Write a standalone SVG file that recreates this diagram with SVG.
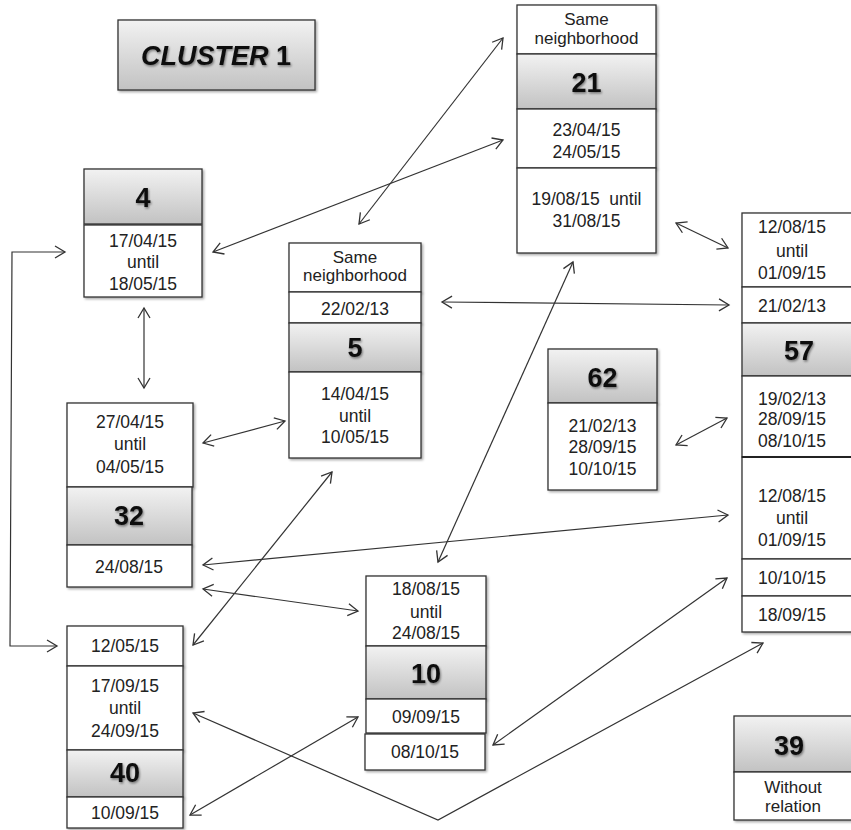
<svg xmlns="http://www.w3.org/2000/svg" width="851" height="830" viewBox="0 0 851 830">
<defs>
<linearGradient id="g" x1="0" y1="0" x2="0" y2="1">
<stop offset="0" stop-color="#f2f2f2"/>
<stop offset="1" stop-color="#c2c2c2"/>
</linearGradient>
<filter id="sh" x="-10%" y="-10%" width="130%" height="130%">
<feDropShadow dx="1.5" dy="1.5" stdDeviation="1.2" flood-color="#000" flood-opacity="0.35"/>
</filter>
<filter id="ts" x="-20%" y="-20%" width="150%" height="150%">
<feDropShadow dx="1" dy="1.5" stdDeviation="1" flood-color="#000" flood-opacity="0.45"/>
</filter>
<marker id="a" viewBox="-1 -7 13 14" markerWidth="13" markerHeight="14" refX="10" refY="0" orient="auto-start-reverse" markerUnits="userSpaceOnUse">
<path d="M0,-6 L10,0 L0,6" fill="none" stroke="#333" stroke-width="1.3"/>
</marker>
</defs>
<style>
.b{fill:#fff;stroke:#333;stroke-width:1.3;filter:url(#sh)}
.h{fill:url(#g);stroke:#333;stroke-width:1.3;filter:url(#sh)}
.t{font-family:"Liberation Sans",Arial,sans-serif;font-size:17.5px;fill:#222;text-anchor:middle}
.s{font-family:"Liberation Sans",Arial,sans-serif;font-size:17px;fill:#222;text-anchor:middle}
.n{font-family:"Liberation Sans",Arial,sans-serif;font-size:27px;font-weight:bold;fill:#111;text-anchor:middle;filter:url(#ts)}
.c{fill:none;stroke:#333;stroke-width:1.2;marker-start:url(#a);marker-end:url(#a)}
</style>
<rect width="851" height="830" fill="#fff"/>

<g id="title">
<rect class="h" x="118" y="20" width="197" height="70"/>
<text x="216" y="65" font-family="Liberation Sans, Arial, sans-serif" font-size="27" font-weight="bold" fill="#111" text-anchor="middle" filter="url(#ts)"><tspan font-style="italic">CLUSTER</tspan> 1</text>
</g>

<g id="connectors">
<line class="c" x1="213" y1="252" x2="503" y2="140"/>
<line class="c" x1="359" y1="224" x2="503" y2="38"/>
<line class="c" x1="144" y1="308" x2="144" y2="388"/>
<line class="c" x1="203" y1="443" x2="285" y2="421"/>
<line class="c" x1="442" y1="302" x2="729" y2="305"/>
<line class="c" x1="676" y1="223" x2="728" y2="248"/>
<line class="c" x1="676" y1="445" x2="727" y2="418"/>
<line class="c" x1="438" y1="562" x2="573" y2="262"/>
<line class="c" x1="193" y1="645" x2="332" y2="472"/>
<line class="c" x1="203" y1="565" x2="728" y2="515"/>
<line class="c" x1="203" y1="589" x2="358" y2="611"/>
<line class="c" x1="190" y1="815" x2="358" y2="717"/>
<line class="c" x1="493" y1="745" x2="727" y2="578"/>
<polyline class="c" points="193,713 438,820 763,643"/>
<polyline class="c" points="65,252 12,252 10,646 57,646"/>
</g>

<g id="n4">
<rect class="h" x="84" y="169" width="118" height="55"/>
<rect class="b" x="84" y="225" width="118" height="72"/>
<text class="n" x="143" y="207">4</text>
<text class="t" x="143" y="247">17/04/15</text>
<text class="t" x="143" y="268">until</text>
<text class="t" x="143" y="290">18/05/15</text>
</g>

<g id="n21">
<rect class="b" x="517" y="5" width="139" height="49"/>
<rect class="h" x="517" y="54" width="139" height="55"/>
<rect class="b" x="517" y="109" width="139" height="59"/>
<rect class="b" x="517" y="168" width="139" height="85"/>
<text class="s" x="586.5" y="25">Same</text>
<text class="s" x="586.5" y="44">neighborhood</text>
<text class="n" x="586.5" y="92">21</text>
<text class="t" x="586.5" y="136">23/04/15</text>
<text class="t" x="586.5" y="158">24/05/15</text>
<text class="t" x="586.5" y="205" xml:space="preserve">19/08/15  until</text>
<text class="t" x="586.5" y="227">31/08/15</text>
</g>

<g id="n5">
<rect class="b" x="289" y="243" width="132" height="49"/>
<rect class="b" x="289" y="292" width="132" height="31"/>
<rect class="h" x="289" y="323" width="132" height="49"/>
<rect class="b" x="289" y="372" width="132" height="86"/>
<text class="s" x="355" y="263">Same</text>
<text class="s" x="355" y="281">neighborhood</text>
<text class="t" x="355" y="315">22/02/13</text>
<text class="n" x="355" y="357">5</text>
<text class="t" x="355" y="400">14/04/15</text>
<text class="t" x="355" y="422">until</text>
<text class="t" x="355" y="443">10/05/15</text>
</g>

<g id="n57">
<rect class="b" x="742" y="213" width="116" height="74"/>
<rect class="b" x="742" y="287" width="116" height="36"/>
<rect class="h" x="742" y="323" width="116" height="53"/>
<rect class="b" x="742" y="376" width="116" height="81"/>
<rect class="b" x="742" y="457" width="116" height="102"/>
<rect class="b" x="742" y="559" width="116" height="37"/>
<rect class="b" x="742" y="596" width="116" height="36"/>
<line x1="742" y1="457" x2="858" y2="457" stroke="#222" stroke-width="2"/>
<text class="t" x="792" y="233">12/08/15</text>
<text class="t" x="792" y="257">until</text>
<text class="t" x="792" y="279">01/09/15</text>
<text class="t" x="792" y="312">21/02/13</text>
<text class="n" x="799" y="360">57</text>
<text class="t" x="792" y="405">19/02/13</text>
<text class="t" x="792" y="425">28/09/15</text>
<text class="t" x="792" y="447">08/10/15</text>
<text class="t" x="792" y="502">12/08/15</text>
<text class="t" x="792" y="524">until</text>
<text class="t" x="792" y="546">01/09/15</text>
<text class="t" x="792" y="584">10/10/15</text>
<text class="t" x="792" y="621">18/09/15</text>
</g>

<g id="n62">
<rect class="h" x="548" y="349" width="109" height="54"/>
<rect class="b" x="548" y="403" width="109" height="87"/>
<text class="n" x="602.5" y="387">62</text>
<text class="t" x="602.5" y="432">21/02/13</text>
<text class="t" x="602.5" y="453">28/09/15</text>
<text class="t" x="602.5" y="475">10/10/15</text>
</g>

<g id="n39">
<rect class="h" x="734" y="716" width="124" height="56"/>
<rect class="b" x="734" y="772" width="124" height="48"/>
<text class="n" x="789" y="755">39</text>
<text class="s" x="793" y="793">Without</text>
<text class="s" x="793" y="812">relation</text>
</g>

<g id="n32">
<rect class="b" x="67" y="403" width="126" height="84"/>
<rect class="h" x="67" y="487" width="125" height="58"/>
<rect class="b" x="67" y="545" width="125" height="42"/>
<text class="t" x="130" y="428">27/04/15</text>
<text class="t" x="130" y="450">until</text>
<text class="t" x="130" y="473">04/05/15</text>
<text class="n" x="129" y="525">32</text>
<text class="t" x="129" y="573">24/08/15</text>
</g>

<g id="n40">
<rect class="b" x="67" y="626" width="116" height="40"/>
<rect class="b" x="67" y="666" width="116" height="84"/>
<rect class="h" x="67" y="750" width="116" height="47"/>
<rect class="b" x="67" y="797" width="116" height="31"/>
<text class="t" x="125" y="652">12/05/15</text>
<text class="t" x="125" y="692">17/09/15</text>
<text class="t" x="125" y="714">until</text>
<text class="t" x="125" y="737">24/09/15</text>
<text class="n" x="125" y="782">40</text>
<text class="t" x="125" y="819">10/09/15</text>
</g>

<g id="n10">
<rect class="b" x="366" y="576" width="120" height="70"/>
<rect class="h" x="366" y="646" width="120" height="53"/>
<rect class="b" x="366" y="699" width="120" height="34"/>
<rect class="b" x="365" y="734" width="120" height="36"/>
<text class="t" x="426" y="595">18/08/15</text>
<text class="t" x="426" y="618">until</text>
<text class="t" x="426" y="639">24/08/15</text>
<text class="n" x="426" y="683">10</text>
<text class="t" x="426" y="723">09/09/15</text>
<text class="t" x="425" y="758">08/10/15</text>
</g>
</svg>
